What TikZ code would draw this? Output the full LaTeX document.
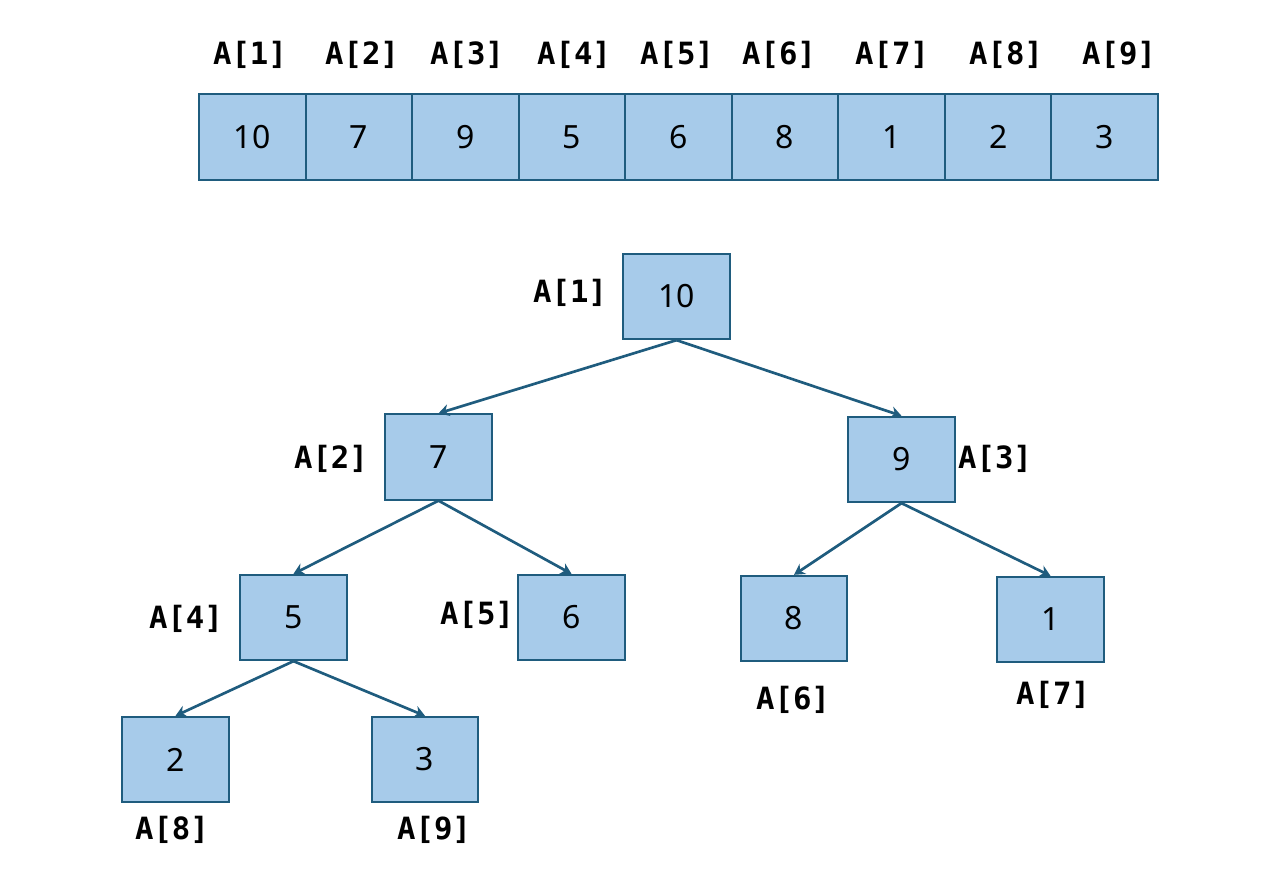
\documentclass[tikz,border=0pt]{standalone}
\usepackage{fontspec}
\setmainfont{Noto Sans}
\newfontfamily\labelfont{DejaVu Sans Mono}
\usetikzlibrary{arrows.meta}
\definecolor{cellfill}{HTML}{A7CBEA}
\definecolor{celledge}{HTML}{1F5C7E}
\begin{document}
\begin{tikzpicture}[x=0.75pt,y=-0.75pt,
  cell/.style={draw=celledge,fill=cellfill,line width=1.5pt,
    minimum width=80pt,minimum height=64pt,inner sep=0pt,
    font=\fontsize{24}{28}\selectfont},
  idx/.style={font=\labelfont\bfseries\fontsize{23}{27}\selectfont,inner sep=0pt},
  link/.style={draw=celledge,line width=2pt,
    -{Stealth[length=8pt,width=9pt]}}]
\useasboundingbox (0,0) rectangle (1268,884);

% array row
\foreach \v [count=\i] in {10,7,9,5,6,8,1,2,3}{
  \node[cell] (c\i) at ({199+106.55*(\i-1)+53.3},137) {\v};
}
\foreach \x [count=\i] in {250,362,467,574,677,779,892,1006,1119}{
  \node[idx] (l\i) at (\x,55) {A[\i]};
}

% heap as a tree
\node[cell] (t1) at (676.5,296.5) {10};
\node[cell] (t2) at (438.5,457) {7};
\node[cell] (t3) at (901.5,459.5) {9};
\node[cell] (t4) at (293.5,617.5) {5};
\node[cell] (t5) at (571.5,617.5) {6};
\node[cell] (t6) at (794,618.5) {8};
\node[cell] (t7) at (1050.5,619.5) {1};
\node[cell] (t8) at (175.5,759.5) {2};
\node[cell] (t9) at (425,759.5) {3};

\node[idx] (n1) at (570,293) {A[1]};
\node[idx] (n2) at (331,459) {A[2]};
\node[idx] (n3) at (995,459) {A[3]};
\node[idx] (n4) at (186,619) {A[4]};
\node[idx] (n5) at (477,615) {A[5]};
\node[idx] (n6) at (793,700) {A[6]};
\node[idx] (n7) at (1053,695) {A[7]};
\node[idx] (n8) at (172,830) {A[8]};
\node[idx] (n9) at (434,830) {A[9]};

\draw[link] (t1.south) -- (t2.north);
\draw[link] (t1.south) -- (t3.north);
\draw[link] (t2.south) -- (t4.north);
\draw[link] (t2.south) -- (t5.north);
\draw[link] (t3.south) -- (t6.north);
\draw[link] (t3.south) -- (t7.north);
\draw[link] (t4.south) -- (t8.north);
\draw[link] (t4.south) -- (t9.north);
\end{tikzpicture}
\end{document}
